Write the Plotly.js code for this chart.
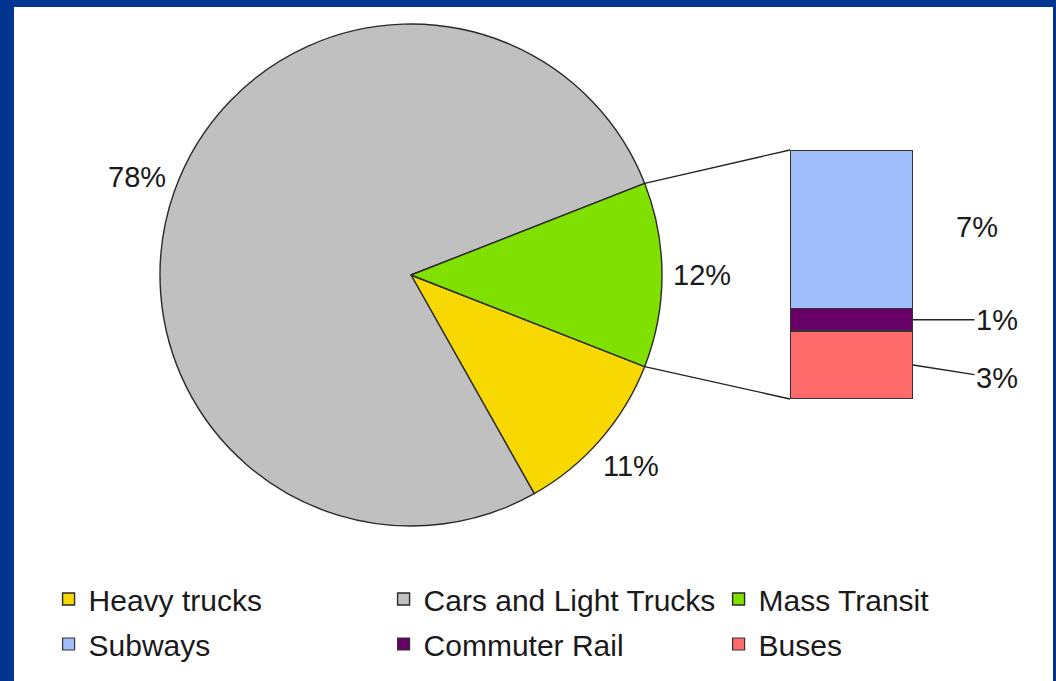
<!DOCTYPE html>
<html>
<head>
<meta charset="utf-8">
<script src="https://cdn.plot.ly/plotly-3.0.1.min.js"></script>
<style>html,body{margin:0;padding:0;background:#023492;}#chart{width:1056px;height:681px;}</style>
</head>
<body>
<div id="chart"></div>
<script>
// ---- data ----
const pieLabels = ["Heavy trucks", "Cars and Light Trucks", "Mass Transit"];
const pieValues = [11, 78, 12];
const pieColors = ["#F7D800", "#C0C0C0", "#80E000"];

const barLabels = ["Buses", "Commuter Rail", "Subways"];   // bottom to top
const barValues = [3, 1, 7];
const barColors = ["#FF6A6A", "#660066", "#A0BEFA"];
const barLegendRank = [4, 3, 2];

// ---- geometry / style ----
const W = 1056, H = 681;
const FONT = "Liberation Sans, Arial, sans-serif";
const pieDomX = [160 / W, 662 / W];
const pieDomY = [1 - 526 / H, 1 - 24 / H];
const barDomX = [790 / W, 913 / W];
const barDomY = [1 - 399 / H, 1 - 150 / H];

const pieTotal = pieValues.reduce((a, b) => a + b, 0);
const greenFrac = pieValues[2] / pieTotal;
const rotation = 90 + greenFrac * 180;   // clock degrees where first slice starts

const barTotal = barValues.reduce((a, b) => a + b, 0);

const traces = [{
  type: "pie",
  labels: pieLabels,
  values: pieValues,
  textinfo: "none",
  sort: false,
  direction: "clockwise",
  rotation: rotation,
  marker: {colors: pieColors, line: {color: "#2a2a2a", width: 1.4}},
  domain: {x: pieDomX, y: pieDomY},
  hoverinfo: "label+percent",
  legend: "legend"
}];

barLabels.forEach((name, i) => {
  traces.push({
    type: "bar",
    name: name,
    x: [0],
    y: [barValues[i]],
    marker: {color: barColors[i], line: {color: "#333333", width: 1.2}},
    xaxis: "x", yaxis: "y",
    legend: "legend2",
    legendrank: barLegendRank[i],
    hoverinfo: "name+y"
  });
});

// pie geometry (pixels)
const pcx = (pieDomX[0] + pieDomX[1]) / 2 * W;
const pcy = (1 - (pieDomY[0] + pieDomY[1]) / 2) * H;
const pr = Math.min((pieDomX[1] - pieDomX[0]) * W, (pieDomY[1] - pieDomY[0]) * H) / 2;
const half = greenFrac * Math.PI;
const pUp = [pcx + pr * Math.cos(half), pcy - pr * Math.sin(half)];
const pDn = [pcx + pr * Math.cos(half), pcy + pr * Math.sin(half)];

const shapes = [
  {type: "rect", xref: "paper", yref: "paper", x0: 14 / W, x1: 1053 / W, y0: 0, y1: 1 - 7 / H,
   fillcolor: "#ffffff", line: {width: 0}, layer: "below"},
  {type: "line", xref: "paper", yref: "paper", x0: pUp[0] / W, y0: 1 - pUp[1] / H, x1: barDomX[0], y1: barDomY[1],
   line: {color: "#222", width: 1.3}},
  {type: "line", xref: "paper", yref: "paper", x0: pDn[0] / W, y0: 1 - pDn[1] / H, x1: barDomX[0], y1: barDomY[0],
   line: {color: "#222", width: 1.3}}
];

const labFont = {family: FONT, size: 29, color: "#1a1a1a"};
const annotations = [];

// pie percentage labels, placed radially outside each slice's mid-angle
let startClock = rotation;
pieValues.forEach(v => {
  const span = v / pieTotal * 360;
  const midClock = startClock + span / 2;          // clockwise from 12 o'clock
  const rad = midClock * Math.PI / 180;
  const lr = pr * 1.16;
  const px = pcx + lr * Math.sin(rad);
  const py = pcy - lr * Math.cos(rad);
  annotations.push({xref: "paper", yref: "paper", x: px / W, y: 1 - py / H,
    xanchor: "center", yanchor: "middle", text: v + "%", showarrow: false, font: labFont});
  startClock += span;
});

// bar labels
let cum = 0;
const mids = barValues.map(v => { const m = cum + v / 2; cum += v; return m; });
annotations.push(
  {x: 0.5, y: mids[0], xref: "x", yref: "y", text: barValues[0] + "%", showarrow: true,
   ax: 84, ay: 13, arrowhead: 0, arrowwidth: 1.4, arrowcolor: "#222", font: labFont},
  {x: 0.5, y: mids[1], xref: "x", yref: "y", text: barValues[1] + "%", showarrow: true,
   ax: 84, ay: 0, arrowhead: 0, arrowwidth: 1.4, arrowcolor: "#222", font: labFont},
  {x: 0.5, y: mids[2], xref: "x", yref: "y", text: barValues[2] + "%", showarrow: false,
   xshift: 64, yshift: 2, font: labFont}
);

const legendBase = {orientation: "h", xanchor: "left", yanchor: "top",
  entrywidth: 290, entrywidthmode: "pixels", bgcolor: "rgba(0,0,0,0)",
  font: {family: FONT, size: 30, color: "#1a1a1a"}, traceorder: "normal"};

const layout = {
  width: W, height: H,
  margin: {l: 0, r: 0, t: 0, b: 0, autoexpand: false},
  paper_bgcolor: "#023492",
  plot_bgcolor: "rgba(0,0,0,0)",
  font: {family: FONT, size: 29, color: "#1a1a1a"},
  barmode: "stack",
  bargap: 0,
  xaxis: {domain: barDomX, range: [-0.5, 0.5], visible: false, fixedrange: true},
  yaxis: {domain: barDomY, range: [0, barTotal], visible: false, fixedrange: true},
  showlegend: true,
  legend: Object.assign({}, legendBase, {x: 0.046, y: 1 - 573 / H}),
  legend2: Object.assign({}, legendBase, {x: 0.046, y: 1 - 618 / H}),
  shapes: shapes,
  annotations: annotations
};

Plotly.newPlot("chart", traces, layout, {displayModeBar: false, staticPlot: true});
</script>
</body>
</html>
